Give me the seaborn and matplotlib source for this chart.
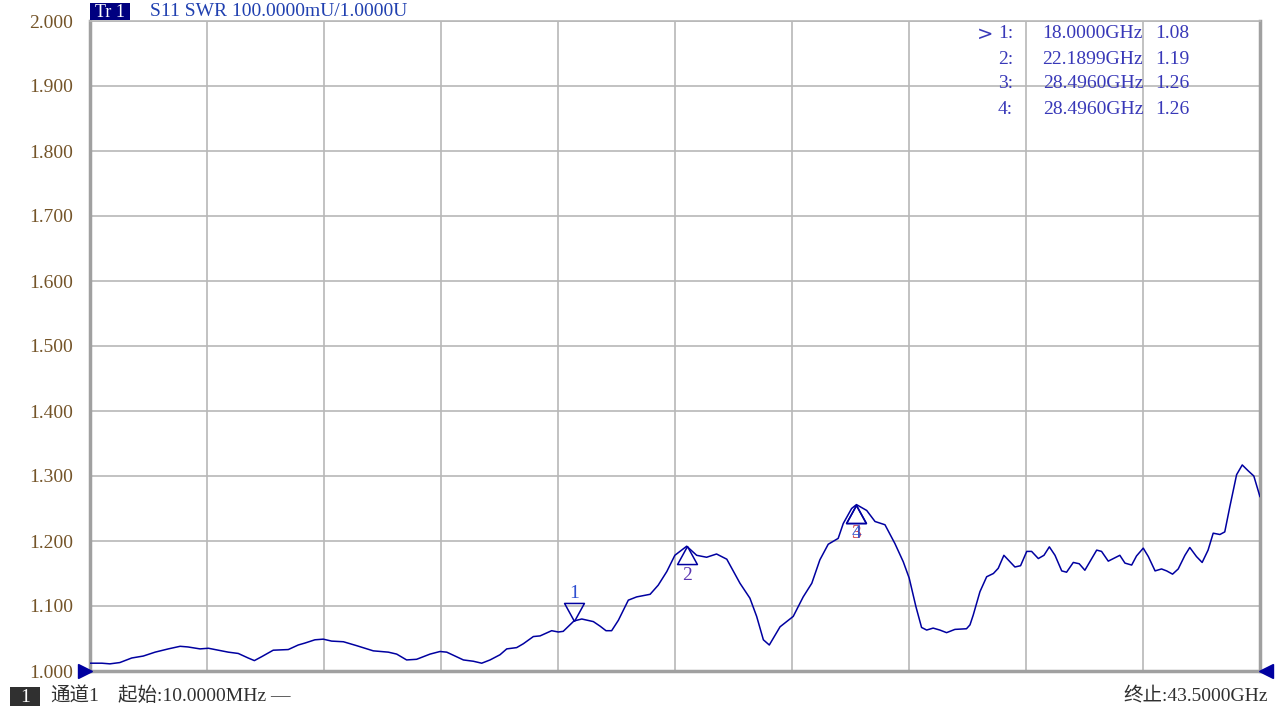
#S11 SWR 화면 재현
import numpy as np
import pandas as pd
import seaborn as sns
import matplotlib.pyplot as plt
from matplotlib.path import Path
from matplotlib.patches import Rectangle

#측정 트레이스 (GHz, SWR)
freq_ghz = [0.01, 0.45, 0.75, 1.12, 1.56, 1.99, 2.43, 2.92, 3.36, 3.65,
            4.10, 4.41, 4.78, 5.15, 5.52, 5.89, 6.12, 6.39, 6.82, 7.38,
            7.75, 8.00, 8.37, 8.68, 8.99, 9.43, 9.92, 10.54, 11.10, 11.41,
            11.78, 12.15, 12.65, 13.02, 13.27, 13.89, 14.26, 14.57, 14.88, 15.25,
            15.50, 15.87, 16.12, 16.49, 16.74, 17.17, 17.42, 17.60, 18.00, 18.29,
            18.72, 18.97, 19.19, 19.40, 19.65, 20.02, 20.33, 20.83, 21.13, 21.45,
            21.75, 22.19, 22.56, 22.93, 23.30, 23.68, 24.17, 24.54, 24.79, 25.04,
            25.26, 25.66, 26.15, 26.52, 26.84, 27.14, 27.45, 27.82, 28.01, 28.32,
            28.50, 28.88, 29.19, 29.56, 29.93, 30.24, 30.46, 30.71, 30.92, 31.11,
            31.35, 31.60, 31.85, 32.16, 32.59, 32.72, 32.84, 33.09, 33.34, 33.59,
            33.77, 33.98, 34.39, 34.60, 34.83, 35.01, 35.26, 35.47, 35.67, 35.88,
            36.13, 36.31, 36.56, 36.78, 36.99, 37.43, 37.61, 37.86, 38.29, 38.48,
            38.73, 38.91, 39.16, 39.35, 39.60, 39.84, 40.03, 40.25, 40.46, 40.71,
            40.89, 41.14, 41.35, 41.57, 41.76, 42.01, 42.19, 42.38, 42.63, 42.84,
            43.06, 43.27, 43.50]
swr = [1.012, 1.012, 1.011, 1.013, 1.020, 1.023, 1.029, 1.034, 1.038, 1.037,
       1.034, 1.035, 1.032, 1.029, 1.027, 1.020, 1.016, 1.022, 1.032, 1.033,
       1.040, 1.043, 1.048, 1.049, 1.046, 1.045, 1.039, 1.031, 1.029, 1.026,
       1.017, 1.018, 1.026, 1.030, 1.029, 1.017, 1.015, 1.012, 1.017, 1.025,
       1.034, 1.036, 1.042, 1.053, 1.054, 1.062, 1.060, 1.061, 1.077, 1.080,
       1.076, 1.069, 1.062, 1.062, 1.078, 1.109, 1.114, 1.118, 1.132, 1.153,
       1.178, 1.192, 1.178, 1.175, 1.180, 1.172, 1.135, 1.112, 1.084, 1.048,
       1.040, 1.068, 1.084, 1.114, 1.135, 1.171, 1.195, 1.204, 1.227, 1.250,
       1.256, 1.247, 1.230, 1.225, 1.196, 1.168, 1.143, 1.099, 1.067, 1.063,
       1.066, 1.063, 1.059, 1.064, 1.065, 1.071, 1.086, 1.122, 1.145, 1.150,
       1.158, 1.178, 1.160, 1.162, 1.184, 1.184, 1.173, 1.178, 1.191, 1.178,
       1.154, 1.152, 1.167, 1.165, 1.155, 1.186, 1.184, 1.169, 1.178, 1.166,
       1.163, 1.177, 1.189, 1.176, 1.154, 1.157, 1.154, 1.149, 1.157, 1.178,
       1.190, 1.176, 1.167, 1.186, 1.212, 1.210, 1.214, 1.253, 1.302, 1.317,
       1.308, 1.300, 1.268]

start_ghz = 0.01
stop_ghz = 43.5
y_ticks = [1.0, 1.1, 1.2, 1.3, 1.4, 1.5, 1.6, 1.7, 1.8, 1.9, 2.0]
y_tick_labels = ["1.000", "1.100", "1.200", "1.300", "1.400", "1.500",
                 "1.600", "1.700", "1.800", "1.900", "2.000"]

#마커
marker_ids = ["1", "2", "3", "4"]
marker_freq = [18.0, 22.1899, 28.4960, 28.4960]
marker_readout = [1.08, 1.19, 1.26, 1.26]
marker_up = [False, True, True, True]
marker_colors = ["#2f4fd0", "#5a34b0", "#c83848", "#3050c8"]

trace_color = "#0000a0"
text_blue = "#3838b8"
fs = 14

sns.set_theme(style="white")
plt.rcParams['font.family'] = ['Liberation Serif', 'Noto Sans CJK SC', 'DejaVu Sans']

fig = plt.figure(figsize=(12.8, 7.09), dpi=100)
ax = fig.add_axes([90 / 1280, 38 / 709, 1170 / 1280, 650 / 709])

df = pd.DataFrame({"freq": freq_ghz, "swr": swr})
sns.lineplot(data=df, x="freq", y="swr", ax=ax, color=trace_color, lw=1.1, zorder=3)

ax.set_xlim(start_ghz, stop_ghz)
ax.set_ylim(y_ticks[0], y_ticks[-1])
ax.set_xticks(np.linspace(start_ghz, stop_ghz, 11))
ax.set_xticklabels([])
ax.set_yticks(y_ticks)
ax.set_yticklabels(y_tick_labels, color="#745428", fontsize=fs)
ax.tick_params(length=0, pad=12)
ax.grid(True, color="#b8b8b8", lw=1.2)
ax.set_xlabel("")
ax.set_ylabel("")
for side in ["left", "bottom", "right"]:
    ax.spines[side].set_color("#a0a0a0")
    ax.spines[side].set_linewidth(2.5)
ax.spines["top"].set_color("#b8b8b8")
ax.spines["top"].set_linewidth(1.2)

#기준 레벨 삼각형
ax.plot([-0.0045], [y_ticks[0]], marker=">", ms=10, color=trace_color,
        transform=ax.get_yaxis_transform(), clip_on=False, zorder=5)
ax.plot([1.0055], [y_ticks[0]], marker="<", ms=10, color=trace_color,
        transform=ax.get_yaxis_transform(), clip_on=False, zorder=5)

#마커 삼각형
tri_down = Path([(0, 0), (-0.55, 1), (0.55, 1), (0, 0)])
tri_up = Path([(0, 0), (-0.55, -1), (0.55, -1), (0, 0)])
for mid, mf, up, mc in zip(marker_ids, marker_freq, marker_up, marker_colors):
    my = np.interp(mf, freq_ghz, swr)
    ax.plot([mf], [my], marker=tri_up if up else tri_down, ms=26,
            mfc="none", mec=trace_color, mew=1.1, zorder=4)
    ax.annotate(mid, (mf, my), xytext=(0, -21 if up else 20),
                textcoords="offset points", ha="center", va="center",
                fontsize=fs, color=mc, zorder=4)

#마커 표
for i, (mid, mf, mv) in enumerate(zip(marker_ids, marker_freq, marker_readout)):
    yy = 1 - (34 + 25 * i) / 709
    if i == 0:
        fig.text(977 / 1280, yy, ">", fontsize=fs, color=text_blue,
                 ha="left", va="center", family="DejaVu Sans")
    fig.text(1013 / 1280, yy, f"{mid}:", fontsize=fs, color=text_blue,
             ha="right", va="center")
    fig.text(1143 / 1280, yy, f"{mf:.4f}GHz", fontsize=fs, color=text_blue,
             ha="right", va="center")
    fig.text(1155 / 1280, yy, f"{mv:.2f}", fontsize=fs, color=text_blue,
             ha="left", va="center")

#상단 제목
fig.patches.append(Rectangle((90 / 1280, 1 - 20 / 709), 40 / 1280, 17 / 709,
                             transform=fig.transFigure, fc="#000080", ec="none"))
fig.text(110 / 1280, 1 - 12.5 / 709, "Tr 1", fontsize=13, color="white",
         ha="center", va="center")
fig.text(150 / 1280, 1 - 12 / 709, "S11 SWR 100.0000mU/1.0000U", fontsize=fs,
         color="#2040b0", ha="left", va="center")

#하단 상태줄
fig.patches.append(Rectangle((10 / 1280, 1 - 706 / 709), 30 / 1280, 19 / 709,
                             transform=fig.transFigure, fc="#303030", ec="none"))
fig.text(25 / 1280, 1 - 697.5 / 709, "1", fontsize=fs, color="white",
         ha="center", va="center")
fig.text(50 / 1280, 1 - 696 / 709, "通道1", fontsize=fs, color="#303030",
         ha="left", va="center")
fig.text(118 / 1280, 1 - 696 / 709, f"起始:{start_ghz * 1000:.4f}MHz —",
         fontsize=fs, color="#303030", ha="left", va="center")
fig.text(1268 / 1280, 1 - 696 / 709, f"终止:{stop_ghz:.4f}GHz",
         fontsize=fs, color="#303030", ha="right", va="center")

plt.savefig("out.png", dpi=100)
